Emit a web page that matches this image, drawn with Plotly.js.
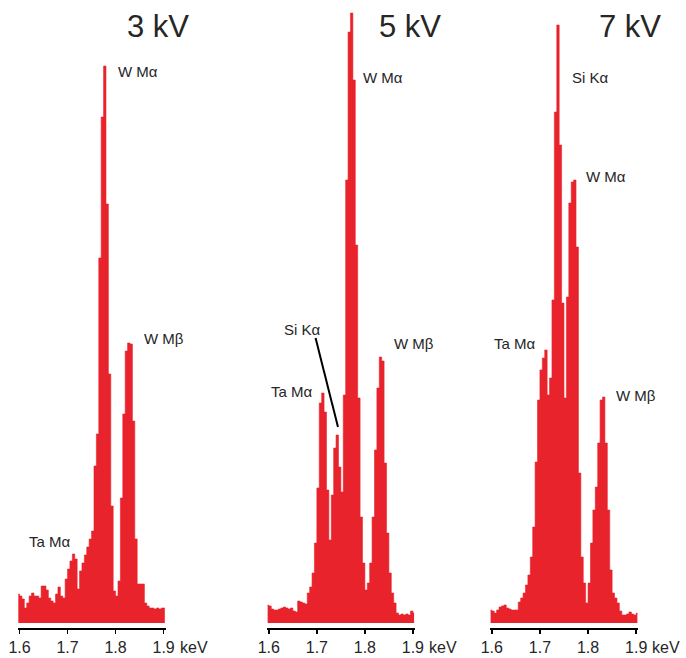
<!DOCTYPE html>
<html>
<head>
<meta charset="utf-8">
<script src="https://cdn.plot.ly/plotly-3.0.1.min.js"></script>
<style>html,body{margin:0;padding:0;background:#fff;}#chart{width:686px;height:658px;}</style>
</head>
<body>
<div id="chart"></div>
<script>
// Energy channels: first channel centre and channel width (keV)
const channelStart = 1.5975;
const channelWidth = 0.005;

// Counts per channel (arbitrary units)
const counts3kV = [29,27,24,15,20,27,30,27,27,25, 37,37,33,25,22,20,29,36,27,25,
  44,54,62,69,64,34,52,60,68,76, 84,92,157,189,365,506,557,419,249,117,
  32,27,42,125,209,272,280,279,202,84, 39,39,39,20,17,15,15,14,15,14,15,15];
const counts5kV = [18,17,14,13,13,14,15,16,15,14, 15,12,11,22,21,20,19,30,36,50,
  80,135,220,230,211,133,83,128,175,188, 156,131,228,443,591,610,543,378,225,106,
  60,33,40,60,106,173,235,266,262,160, 90,50,30,20,10,8,9,8,9,8,12,10];
const counts7kV = [13,12,10,13,16,17,18,15,14,13, 13,13,21,25,30,38,48,66,96,161,
  223,253,265,273,228,245,323,511,598,478, 320,225,326,420,441,443,376,150,66,40,
  20,40,80,113,136,180,223,226,180,113, 53,30,25,20,12,8,8,9,11,9,8,10];

const panelTitles = ["3 kV", "5 kV", "7 kV"];
const tickVals = [1.6, 1.7, 1.8, 1.9];
const tickText = ["1.6", "1.7", "1.8", "1.9"];
const unitLabel = "keV";

// Peak labels: [text, energy, count]
const labels3kV = [["W Mα", 1.8013, 552], ["W Mβ", 1.8558, 285], ["Ta Mα", 1.6147, 82]];
const labels5kV = [["W Mα", 1.7922, 546], ["Si Kα", 1.6266, 294], ["Ta Mα", 1.5994, 232], ["W Mβ", 1.8571, 280]];
const labels7kV = [["Si Kα", 1.7626, 546], ["W Mα", 1.7918, 447], ["Ta Mα", 1.5994, 280], ["W Mβ", 1.8546, 228]];

const RED = '#e8232b';
const TXT = '#262626';
const FONT = 'Liberation Sans, Arial, Helvetica, sans-serif';

const series = [counts3kV, counts5kV, counts7kV];
const suffix = ['', '2', '3'];
const domains = [[0.02566, 0.2413], [0.3891, 0.6047], [0.7141, 0.9302]];
const titleX = [0.2303, 0.5977, 0.9184];
const allLabels = [labels3kV, labels5kV, labels7kV];

// Step-histogram traces (channel centres, steps at channel boundaries)
const data = series.map((ys, i) => ({
  type: 'scatter', mode: 'lines', y: ys, x0: channelStart, dx: channelWidth,
  xaxis: 'x' + suffix[i], yaxis: 'y' + suffix[i],
  line: {shape: 'hvh', color: RED, width: 0.6},
  fill: 'tozeroy', fillcolor: RED,
  hoverinfo: 'skip'
}));

const layout = {
  width: 686, height: 658,
  margin: {l: 0, r: 0, t: 10, b: 30},
  paper_bgcolor: '#fff', plot_bgcolor: '#fff',
  showlegend: false,
  font: {family: FONT, color: TXT},
  annotations: [], shapes: []
};

for (let i = 0; i < 3; i++) {
  layout['xaxis' + suffix[i]] = {
    domain: domains[i], anchor: 'y' + suffix[i],
    range: [1.596, 1.904], fixedrange: true,
    showgrid: false, zeroline: false,
    showline: true, linecolor: '#000', linewidth: 2,
    ticks: 'outside', ticklen: 4, tickwidth: 1.5, tickcolor: '#000',
    tickmode: 'array', tickvals: tickVals, ticktext: tickText,
    tickfont: {family: FONT, size: 16, color: TXT}
  };
  layout['yaxis' + suffix[i]] = {
    domain: [0, 1], anchor: 'x' + suffix[i], range: [-5, 613],
    visible: false, fixedrange: true
  };
  layout.annotations.push({
    xref: 'paper', yref: 'paper', x: titleX[i], y: 0.974,
    xanchor: 'center', yanchor: 'middle', showarrow: false,
    text: panelTitles[i], font: {family: FONT, size: 31, color: TXT}
  });
  layout.annotations.push({
    xref: 'x' + suffix[i], yref: 'paper', x: 1.9, y: 0,
    xanchor: 'left', yanchor: 'middle', xshift: 14, yshift: -19, showarrow: false,
    text: unitLabel, font: {family: FONT, size: 16, color: TXT}
  });
  allLabels[i].forEach(l => {
    layout.annotations.push({
      xref: 'x' + suffix[i], yref: 'y' + suffix[i], x: l[1], y: l[2],
      xanchor: 'left', yanchor: 'middle', showarrow: false,
      text: l[0], font: {family: FONT, size: 15, color: TXT}
    });
  });
}

// Leader line from the "Si Kα" label to its peak in the 5 kV spectrum
layout.shapes.push({
  type: 'line', xref: 'x2', yref: 'y2',
  x0: 1.6973, y0: 285, x1: 1.744, y1: 196,
  line: {color: '#000', width: 2}
});

Plotly.newPlot('chart', data, layout, {staticPlot: true, displayModeBar: false});
</script>
</body>
</html>
